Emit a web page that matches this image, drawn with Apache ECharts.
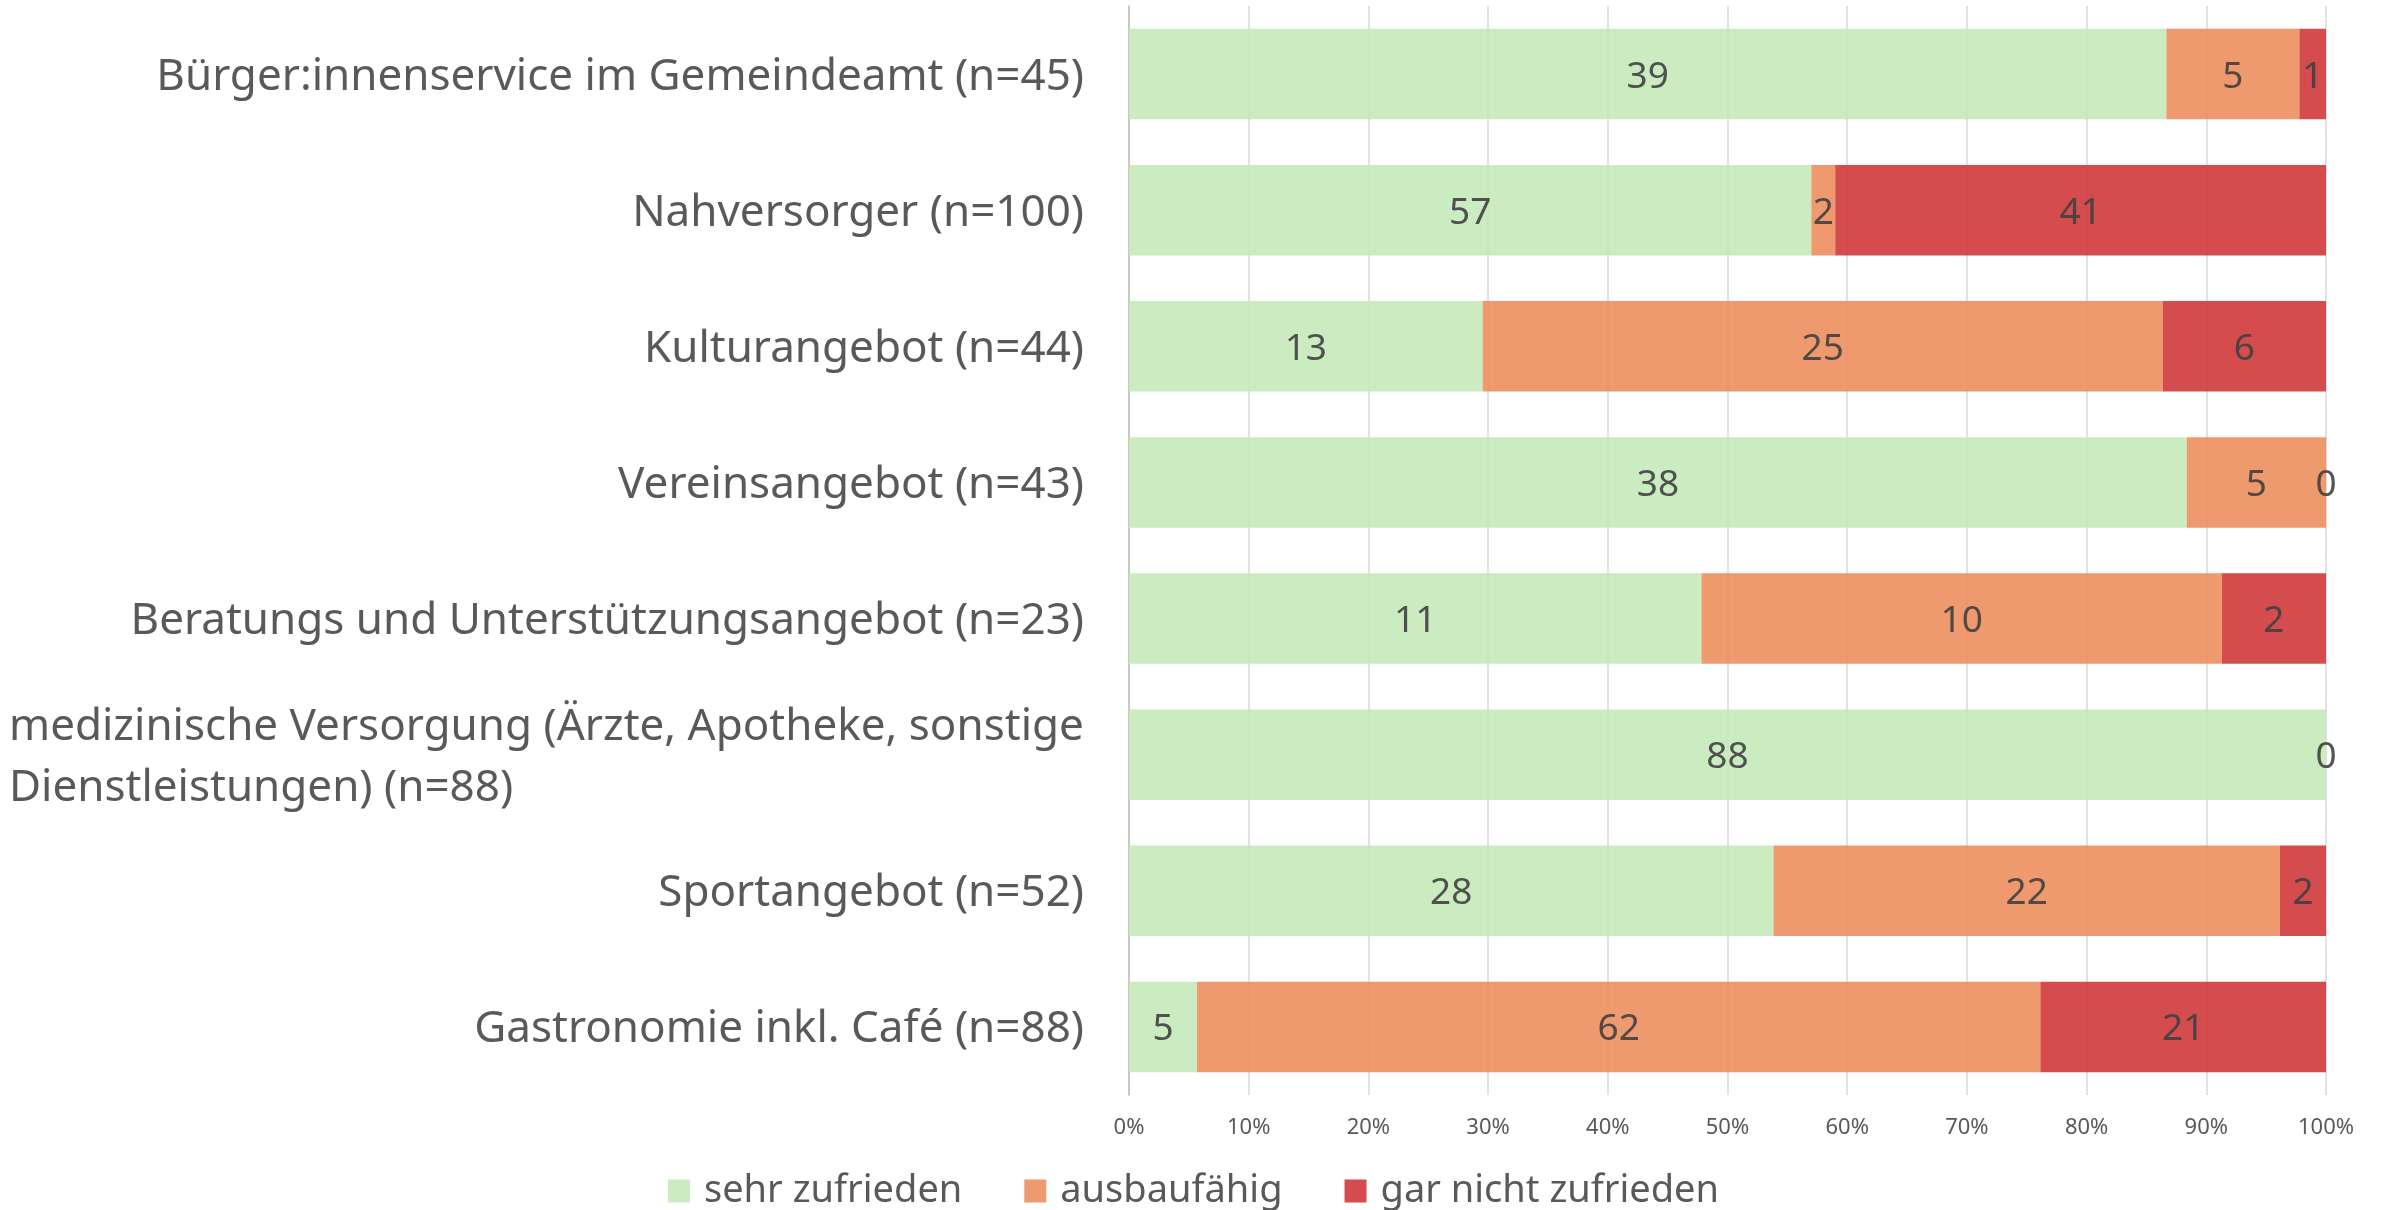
<!DOCTYPE html>
<html>
<head>
<meta charset="utf-8">
<title>Zufriedenheit</title>
<script src="https://cdn.jsdelivr.net/npm/echarts@6/dist/echarts.min.js"></script>
<style>
  html, body { margin: 0; padding: 0; background: #fff; }
  #chart { width: 2387px; height: 1210px; }
</style>
</head>
<body>
<div id="chart"></div>
<script>
// Kategorien (von oben nach unten)
var categories = [
  "Bürger:innenservice im Gemeindeamt (n=45)",
  "Nahversorger (n=100)",
  "Kulturangebot (n=44)",
  "Vereinsangebot (n=43)",
  "Beratungs und Unterstützungsangebot (n=23)",
  "medizinische Versorgung (Ärzte, Apotheke, sonstige\nDienstleistungen) (n=88)",
  "Sportangebot (n=52)",
  "Gastronomie inkl. Café (n=88)"
];
// Anzahl Nennungen
var sehrZufrieden = [39, 57, 13, 38, 11, 88, 28, 5];
var ausbaufaehig = [5, 2, 25, 5, 10, null, 22, 62];
var garNicht = [1, 41, 6, 0, 2, 0, 2, 21];
var seriesNames = ["sehr zufrieden", "ausbaufähig", "gar nicht zufrieden"];
var xTicks = [0, 100, 10];

var FONT = '"Noto Sans", "Liberation Sans", sans-serif';
var textColor = "#595959";
var catSize = 44;

var totals = categories.map(function (c, i) {
  return (sehrZufrieden[i] || 0) + (ausbaufaehig[i] || 0) + (garNicht[i] || 0);
});

function toPercent(arr) {
  return arr.map(function (v, i) {
    if (v === null) return "-";
    return { value: (v / totals[i]) * 100, count: v };
  });
}

// breite der ersten Zeile messen, damit die zweite Zeile links buendig beginnt
var ctx = document.createElement("canvas").getContext("2d");
ctx.font = catSize + "px " + FONT;
var wrapWidth = Math.ceil(ctx.measureText(categories[5].split("\n")[0]).width);

var myChart = echarts.init(document.getElementById("chart"));

function barSeries(name, arr, color) {
  return {
    name: name,
    type: "bar",
    stack: "total",
    barCategoryGap: "33.5%",
    data: toPercent(arr),
    itemStyle: { color: color, opacity: 0.9 },
    label: {
      show: true,
      position: "inside",
      offset: [0, 3],
      color: "#404040",
      fontFamily: FONT,
      fontSize: 37,
      formatter: function (p) {
        return p.data.count;
      }
    },
    emphasis: { disabled: true }
  };
}

var option = {
  backgroundColor: "#ffffff",
  animation: false,
  grid: { left: 1129, right: 61, top: 6, bottom: 115 },
  legend: {
    data: seriesNames,
    left: "center",
    top: 1172,
    icon: "rect",
    itemWidth: 22,
    itemHeight: 23,
    itemGap: 62,
    padding: 0,
    textStyle: { color: textColor, fontFamily: FONT, fontSize: 38, padding: [0, 0, 0, 9] }
  },
  xAxis: {
    type: "value",
    min: xTicks[0],
    max: xTicks[1],
    interval: xTicks[2],
    axisLine: { show: false },
    axisTick: { show: false },
    splitLine: { lineStyle: { color: "#d9d9d9", width: 1.5 } },
    axisLabel: {
      formatter: "{value}%",
      color: textColor,
      fontFamily: FONT,
      fontSize: 22,
      margin: 22
    }
  },
  yAxis: {
    type: "category",
    inverse: true,
    data: categories,
    axisLine: { show: true, lineStyle: { color: "#bfbfbf", width: 1.5 } },
    axisTick: { show: false },
    axisLabel: {
      color: textColor,
      fontFamily: FONT,
      fontSize: catSize,
      margin: 45,
      align: "right",
      padding: [6, 0, 0, 0],
      formatter: function (value) {
        if (value.indexOf("\n") < 0) return value;
        return value.split("\n").map(function (l) {
          return "{w|" + l + "}";
        }).join("\n");
      },
      rich: {
        w: {
          width: wrapWidth,
          align: "left",
          lineHeight: 61,
          color: textColor,
          fontFamily: FONT,
          fontSize: catSize
        }
      }
    }
  },
  series: [
    barSeries(seriesNames[0], sehrZufrieden, "#c5eaba"),
    barSeries(seriesNames[1], ausbaufaehig, "#ed8f5e"),
    barSeries(seriesNames[2], garNicht, "#cf383a")
  ]
};

myChart.setOption(option);
</script>
</body>
</html>
